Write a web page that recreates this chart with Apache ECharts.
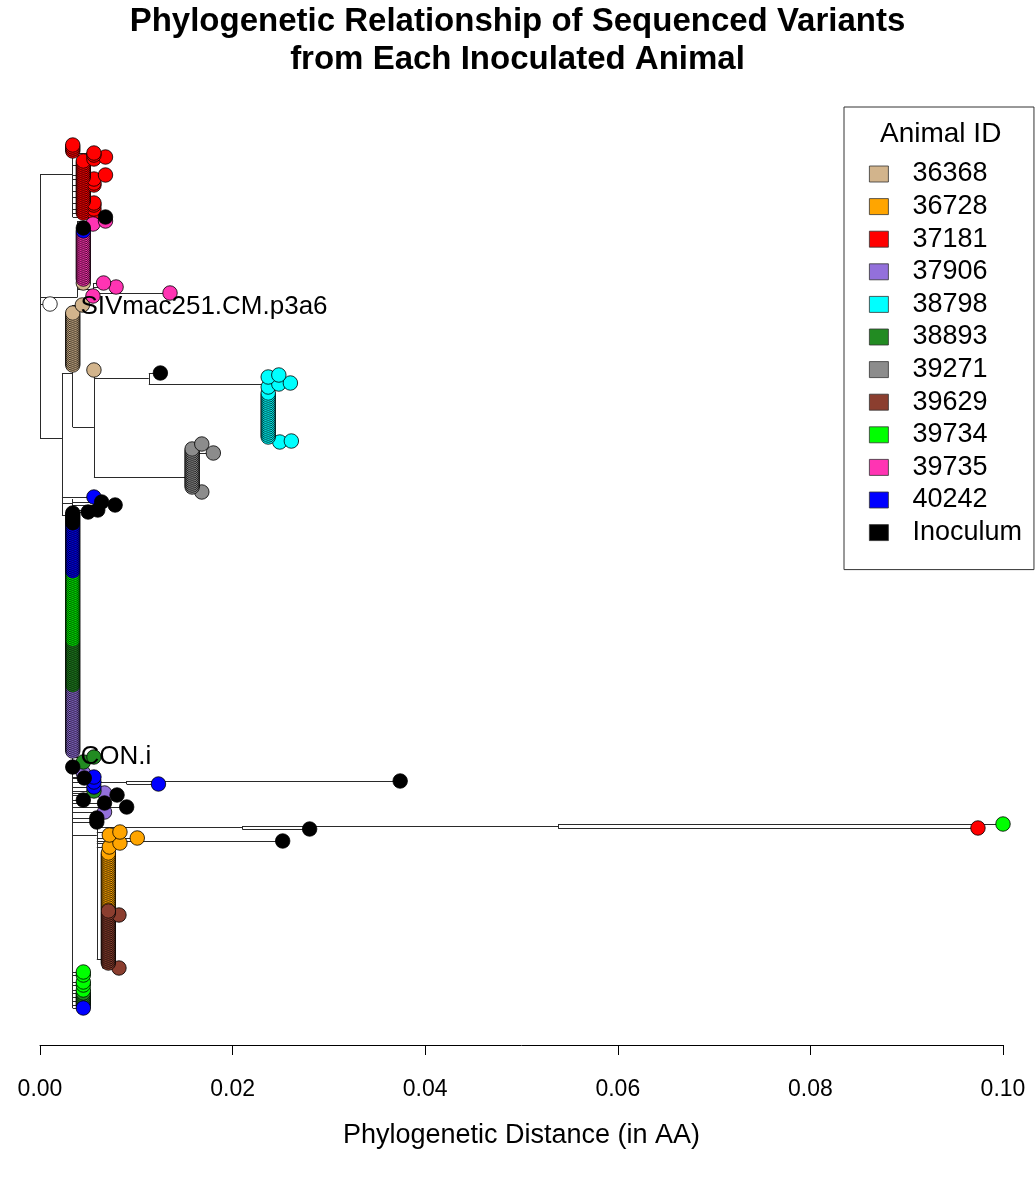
<!DOCTYPE html>
<html><head><meta charset="utf-8">
<script src="https://cdn.jsdelivr.net/npm/echarts@6/dist/echarts.min.js"></script>
<style>html,body{margin:0;padding:0;background:#fff}#c{width:1035px;height:1177px}</style>
</head><body><div id="c"></div>
<script>
// ---- categories / colours ----
const groups = ['36368','36728','37181','37906','38798','38893','39271','39629','39734','39735','40242','Inoculum'];
const groupColors = ['#D2B48C','#FFA500','#FF0000','#9370DB','#00FFFF','#228B22','#8C8C8C','#8B3E2F','#00FF00','#FF34B3','#0000FF','#000000'];
const xTickValues = [0, 0.02, 0.04, 0.06, 0.08, 0.10];

// ---- tips: [distance, tip row] ----
const tips36368 = [[0.0045,77],[0.0044,88],
 [0.0034,92],[0.0034,93],[0.0034,94],[0.0034,95],[0.0034,96],[0.0034,97],[0.0034,98],[0.0034,99],[0.0034,100],
 [0.0034,101],[0.0034,102],[0.0034,103],[0.0034,104],[0.0034,105],[0.0034,106],[0.0034,107],[0.0034,108],[0.0034,109],
 [0.0034,110],[0.0034,111],[0.0034,112],[0.0034,113],[0.0034,114],[0.0034,115],[0.0034,116],[0.0034,117],[0.0034,118],
 [0.0056,120.5]];
const tips36728 = [[0.0083,351.5],[0.0072,353],[0.0101,354.5],[0.0083,357],[0.0072,359],
 [0.0071,362],[0.0071,363],[0.0071,364],[0.0071,365],[0.0071,366],[0.0071,367],[0.0071,368],[0.0071,369],[0.0071,370],
 [0.0071,371],[0.0071,372],[0.0071,373],[0.0071,374],[0.0071,375],[0.0071,376],[0.0071,377],[0.0071,378],[0.0071,379],
 [0.0071,380],[0.0071,381],[0.0071,382],[0.0071,383],[0.0071,384],[0.0071,385],[0.0071,386],[0.0071,387],[0.0071,388],
 [0.0071,389],[0.0071,390]];
const tips37181 = [[0.0034,8],[0.0034,9],[0.0034,10],[0.0034,11],[0.0056,12],[0.0056,13],[0.0068,14],[0.0056,15],
 [0.0045,16],[0.0045,17],[0.0045,18],[0.0045,19],[0.0045,20],[0.0045,21],[0.0045,22],[0.0045,23],[0.0045,24],
 [0.0045,25],[0.0045,26],[0.0045,27],[0.0045,28],[0.0045,29],[0.0045,30],[0.0045,31],[0.0045,32],[0.0045,33],
 [0.0045,34],[0.0045,35],[0.0045,36],[0.0045,37],[0.0045,38],[0.0045,39],[0.0045,40],[0.0045,41],[0.0045,42],
 [0.0068,23],[0.0056,25],[0.0056,27],[0.0056,28],[0.0056,37],[0.0056,38],[0.0056,40],[0.0056,42],[0.0974,349.5]];
const tips37906 = [
 [0.0034,279],[0.0034,280],[0.0034,281],[0.0034,282],[0.0034,283],[0.0034,284],[0.0034,285],[0.0034,286],[0.0034,287],
 [0.0034,288],[0.0034,289],[0.0034,290],[0.0034,291],[0.0034,292],[0.0034,293],[0.0034,294],[0.0034,295],[0.0034,296],
 [0.0034,297],[0.0034,298],[0.0034,299],[0.0034,300],[0.0034,301],[0.0034,302],[0.0034,303],[0.0034,304],[0.0034,305],
 [0.0034,306],[0.0034,307],[0.0034,308],[0.0034,309],[0.0034,310],[0.0034,311],
 [0.0045,322],[0.0067,332],[0.0067,341.5]];
const tips38798 = [[0.0248,123],[0.0237,124],[0.0260,127],[0.0248,127.5],[0.0237,129],
 [0.0237,132],[0.0237,133],[0.0237,134],[0.0237,135],[0.0237,136],[0.0237,137],[0.0237,138],[0.0237,139],[0.0237,140],
 [0.0237,141],[0.0237,142],[0.0237,143],[0.0237,144],[0.0237,145],[0.0237,146],[0.0237,147],[0.0237,148],[0.0237,149],
 [0.0237,150],[0.0237,151],[0.0237,152],[0.0237,153],[0.0237,154],
 [0.0261,156],[0.0249,156.5]];
const tips38893 = [
 [0.0034,256],[0.0034,257],[0.0034,258],[0.0034,259],[0.0034,260],[0.0034,261],[0.0034,262],[0.0034,263],[0.0034,264],
 [0.0034,265],[0.0034,266],[0.0034,267],[0.0034,268],[0.0034,269],[0.0034,270],[0.0034,271],[0.0034,272],[0.0034,273],
 [0.0034,274],[0.0034,275],[0.0034,276],[0.0034,277],[0.0034,278],
 [0.0056,314],[0.0045,316.5],[0.0056,331],
 [0.0045,432],[0.0045,433],[0.0045,434],[0.0045,435],[0.0045,436],[0.0045,437],[0.0045,438]];
const tips39271 = [[0.0168,157.5],
 [0.0158,160],[0.0158,161],[0.0158,162],[0.0158,163],[0.0158,164],[0.0158,165],[0.0158,166],[0.0158,167],[0.0158,168],
 [0.0158,169],[0.0158,170],[0.0158,171],[0.0158,172],[0.0158,173],[0.0158,174],[0.0158,175],[0.0158,176],[0.0158,177],
 [0.0158,178],[0.0158,179],[0.0180,162],[0.0168,181.5]];
const tips39629 = [
 [0.0071,391],[0.0071,392],[0.0071,393],[0.0071,394],[0.0071,395],[0.0071,396],[0.0071,397],[0.0071,398],[0.0071,399],
 [0.0071,400],[0.0071,401],[0.0071,402],[0.0071,403],[0.0071,404],[0.0071,405],[0.0071,406],[0.0071,407],[0.0071,408],
 [0.0071,409],[0.0071,410],[0.0071,411],[0.0071,412],[0.0071,413],[0.0071,414],[0.0071,415],[0.0071,416],[0.0071,417],
 [0.0082,393],[0.0082,419.5]];
const tips39734 = [
 [0.0034,222],[0.0034,223],[0.0034,224],[0.0034,225],[0.0034,226],[0.0034,227],[0.0034,228],[0.0034,229],[0.0034,230],
 [0.0034,231],[0.0034,232],[0.0034,233],[0.0034,234],[0.0034,235],[0.0034,236],[0.0034,237],[0.0034,238],[0.0034,239],
 [0.0034,240],[0.0034,241],[0.0034,242],[0.0034,243],[0.0034,244],[0.0034,245],[0.0034,246],[0.0034,247],[0.0034,248],
 [0.0034,249],[0.0034,250],[0.0034,251],[0.0034,252],[0.0034,253],[0.0034,254],[0.0034,255],
 [0.1000,347.5],
 [0.0045,421.5],[0.0045,423],[0.0045,426.5],[0.0045,428],[0.0045,430.5]];
const tips39735 = [[0.0068,46],[0.0055,47.5],
 [0.0045,52],[0.0045,53],[0.0045,54],[0.0045,55],[0.0045,56],[0.0045,57],[0.0045,58],[0.0045,59],[0.0045,60],
 [0.0045,61],[0.0045,62],[0.0045,63],[0.0045,64],[0.0045,65],[0.0045,66],[0.0045,67],[0.0045,68],[0.0045,69],
 [0.0045,70],[0.0045,71],[0.0045,72],[0.0045,73],[0.0045,74],[0.0045,75],
 [0.0066,77],[0.0079,79],[0.0135,82],[0.0055,83.5]];
const tips40242 = [[0.0045,51],[0.0056,184],
 [0.0034,198],[0.0034,199],[0.0034,200],[0.0034,201],[0.0034,202],[0.0034,203],[0.0034,204],[0.0034,205],[0.0034,206],
 [0.0034,207],[0.0034,208],[0.0034,209],[0.0034,210],[0.0034,211],[0.0034,212],[0.0034,213],[0.0034,214],[0.0034,215],
 [0.0034,216],[0.0034,217],[0.0034,218],[0.0034,219],[0.0034,220],[0.0034,221],
 [0.0056,324],[0.0056,326.5],[0.0123,327.5],[0.0056,329],[0.0045,439.5]];
const tipsInoculum = [[0.0068,44],[0.0045,49.5],[0.0125,122],
 [0.0064,186.5],[0.0078,188],[0.0060,190.5],[0.0050,191.5],
 [0.0034,192],[0.0034,193],[0.0034,194],[0.0034,195],[0.0034,196],[0.0034,197],
 [0.0034,319],[0.0046,324.5],[0.0374,326],[0.0080,333],[0.0045,335.5],[0.0067,337],[0.0090,339],
 [0.0059,344.5],[0.0059,346.5],[0.0280,350],[0.0252,356]];
const tipsRef = [[0.00104,87.5]];
const tipLabels = [['SIVmac251.CM.p3a6',0.0042,89],['CON.i',0.0042,314]];

// ---- branches ----
// vertical: [node distance, first row, last row]
const vEdges = [[0,22.5,154.5],[0.0034,9,44],[0.0039,46,84],[0.00228,122,193],[0.0034,88,149],
 [0.0056,120.5,174],[0.0113,122,127.5],[0.0232,123,156.5],[0.0153,157.5,181.5],[0.0034,192,439.5],
 [0.0034,185,191.5],[0.0090,326,327.5],[0.0059,349,415],[0.0210,348.5,350],[0.0538,347.5,349.5],
 [0.0065,362,419.5],[0.0055,77,83.5],[0.0045,12,15]];
// horizontal: [row, from distance, to distance]
const hEdges = [[22.5,0,0.0034],[84,0,0.0039],[87.5,0,0.00104],[154.5,0,0.00228],
 [12,0.0034,0.0056],[13,0.0034,0.0056],[14,0.0045,0.0068],[18,0.0034,0.0045],[23,0.0034,0.0068],[25,0.0034,0.0056],
 [28,0.0034,0.0056],[31,0.0034,0.0045],[34,0.0034,0.0045],[37,0.0034,0.0056],[40,0.0034,0.0056],[42,0.0034,0.0056],
 [44,0.0034,0.0068],
 [46,0.0039,0.0068],[47.5,0.0039,0.0055],[49.5,0.0039,0.0045],[80,0.0039,0.0055],[77,0.0055,0.0066],
 [79,0.0055,0.0079],[82,0.0055,0.0135],
 [122,0.00228,0.0034],[88,0.0034,0.0044],[149,0.0034,0.0056],[124.5,0.0056,0.0113],[122,0.0113,0.0125],
 [127.5,0.0113,0.0232],[124,0.0232,0.0237],[123,0.0232,0.0248],[127,0.0232,0.0260],[156.5,0.0232,0.0249],
 [156,0.0232,0.0261],[174,0.0056,0.0153],[157.5,0.0153,0.0168],[162,0.0153,0.0180],[181.5,0.0153,0.0168],
 [184,0.00228,0.0056],[187,0.00228,0.0034],[186.5,0.0034,0.0064],[188,0.0034,0.0078],[190.5,0.0034,0.0060],
 [191.5,0.0034,0.0050],[193,0.00228,0.0034],
 [314,0.0034,0.0056],[316.5,0.0034,0.0045],[322,0.0034,0.0045],[324.5,0.0034,0.0046],[324,0.0034,0.0056],
 [326.8,0.0034,0.0090],[326,0.0090,0.0374],[327.5,0.0090,0.0123],[329,0.0034,0.0056],[331,0.0034,0.0056],
 [332,0.0034,0.0067],[333,0.0034,0.0080],[335.5,0.0034,0.0045],[337,0.0034,0.0067],[339,0.0034,0.0090],
 [341.5,0.0034,0.0067],[344.5,0.0034,0.0059],[346.5,0.0034,0.0059],
 [353,0.0034,0.0059],[349,0.0059,0.0210],[350,0.0210,0.0280],[348.5,0.0210,0.0538],[347.5,0.0538,0.1000],
 [349.5,0.0538,0.0974],[356,0.0059,0.0252],[354.5,0.0059,0.0101],[351.5,0.0059,0.0083],[357,0.0059,0.0083],
 [359,0.0059,0.0072],[415,0.0059,0.0065],[393,0.0065,0.0082],[419.5,0.0065,0.0082],
 [421.5,0.0034,0.0045],[423,0.0034,0.0045],[426.5,0.0034,0.0045],[428,0.0034,0.0045],[430.5,0.0034,0.0045],
 [432,0.0034,0.0045],[434,0.0034,0.0045],[436,0.0034,0.0045],[438,0.0034,0.0045],[439.5,0.0034,0.0045]];

const groupTips = [tips36368,tips36728,tips37181,tips37906,tips38798,tips38893,tips39271,tips39629,tips39734,tips39735,tips40242,tipsInoculum];

const FONT = 'Liberation Sans, Arial, Helvetica, sans-serif';
const lineData = [];
vEdges.forEach(e => lineData.push({coords: [[e[0], e[1]], [e[0], e[2]]]}));
hEdges.forEach(e => lineData.push({coords: [[e[1], e[0]], [e[2], e[0]]]}));

const series = [{
  type: 'lines', coordinateSystem: 'cartesian2d', silent: true, z: 1,
  lineStyle: {color: '#2a2a2a', width: 1, opacity: 1}, data: lineData
}];
groups.forEach((g, i) => {
  const d = groupTips[i].slice().sort((a, b) => b[1] - a[1]);
  series.push({
    name: g, type: 'scatter', z: 3, symbol: 'circle', symbolSize: 14.5,
    itemStyle: {color: groupColors[i], borderColor: '#000', borderWidth: 0.8, opacity: 1},
    emphasis: {disabled: true}, data: d
  });
});
series.push({name: 'ref', type: 'scatter', z: 3, symbolSize: 14.5,
  itemStyle: {color: '#fff', borderColor: '#000', borderWidth: 0.8, opacity: 1}, data: tipsRef});
series.push({name: 'labels', type: 'scatter', z: 5, symbolSize: 0,
  itemStyle: {opacity: 1},
  data: tipLabels.map(t => [t[1], t[2], t[0]]),
  label: {show: true, position: 'right', distance: 0, formatter: p => p.data[2],
    color: '#000', opacity: 1, fontSize: 26, fontFamily: FONT}});

const chart = echarts.init(document.getElementById('c'), null, {renderer: 'canvas'});
chart.setOption({
  animation: false,
  backgroundColor: '#fff',
  title: [{
    text: 'Phylogenetic Relationship of Sequenced Variants\nfrom Each Inoculated Animal',
    left: 'center', top: 0, padding: [3, 0, 0, 7],
    textStyle: {fontFamily: FONT, fontSize: 33, fontWeight: 'bold', lineHeight: 38, color: '#000'}
  }, {
    text: 'Animal ID', left: 880, top: 120, padding: 0,
    textStyle: {fontFamily: FONT, fontSize: 28, fontWeight: 'normal', lineHeight: 28, color: '#000'}
  }],
  legend: {
    data: groups, orient: 'vertical', left: 844, top: 107,
    padding: [53, 12, 23, 25], itemGap: 4.6, itemWidth: 19, itemHeight: 16, icon: 'rect',
    borderColor: '#333', borderWidth: 1, selectedMode: false,
    itemStyle: {borderColor: '#333', borderWidth: 0.8},
    textStyle: {fontFamily: FONT, fontSize: 27, lineHeight: 28, color: '#000', padding: [0, 0, 0, 19]}
  },
  grid: {left: 40, right: 32, top: 129, bottom: 132, containLabel: false},
  xAxis: {
    type: 'value', min: 0, max: 0.1, interval: 0.02, position: 'bottom',
    name: 'Phylogenetic Distance (in AA)', nameLocation: 'middle', nameGap: 77,
    nameTextStyle: {fontFamily: FONT, fontSize: 27, color: '#000'},
    axisLine: {show: true, onZero: false, lineStyle: {color: '#000', width: 1}},
    axisTick: {show: true, inside: false, length: 10, lineStyle: {color: '#000'}},
    axisLabel: {show: true, margin: 33, fontFamily: FONT, fontSize: 23, color: '#000',
      showMinLabel: true, showMaxLabel: true, formatter: v => v.toFixed(2)},
    splitLine: {show: false}
  },
  yAxis: {type: 'value', min: 0, max: 458, inverse: true, show: false, splitLine: {show: false}},
  series: series
});
</script></body></html>
